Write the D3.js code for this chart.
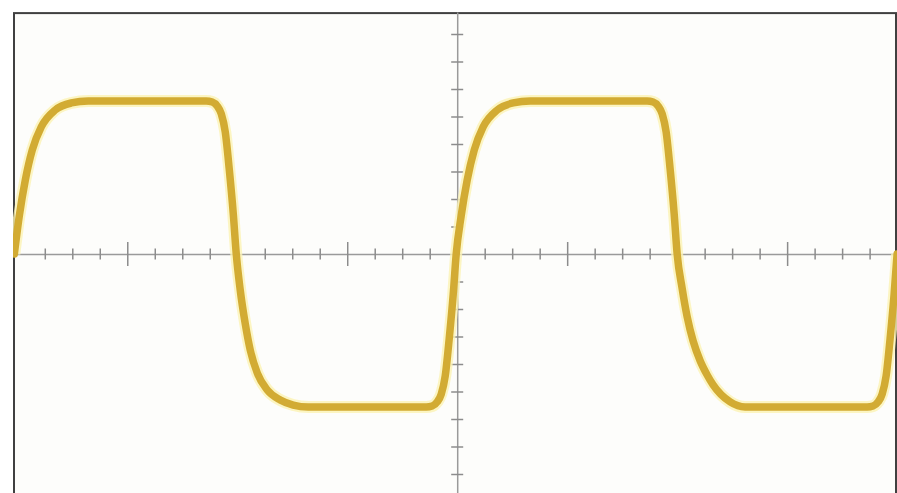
<!DOCTYPE html>
<html lang="en">
<head>
    <meta charset="UTF-8">
    <script type="text/javascript" src="https://cdn.jsdelivr.net/npm/d3@7/dist/d3.min.js"></script>
    <title>Scope trace</title>
</head>
<style>
    html, body {
       margin: 0;
       padding: 0;
       background: #ffffff;
       overflow: hidden;
    }
    svg .screen {
       fill: #fdfdfb;
       stroke: #404040;
       stroke-width: 2;
    }
    .axis path.domain {
       stroke: #9a9a9a;
       stroke-width: 1.5;
    }
    .axis .tick line {
       stroke: #8c8c8c;
       stroke-width: 1.5;
    }
    .glow {
       fill: none;
       stroke: #fbf2b4;
       stroke-width: 12;
       stroke-opacity: 0.8;
    }
    .trace {
       fill: none;
       stroke: #d2ab33;
       stroke-width: 7.5;
       stroke-linejoin: round;
       stroke-linecap: round;
    }
 </style>
<body>
   <div id="container"></div>

<script>
  // trace, in divisions (time, volts)
  var traceT = [-4.027, -3.982, -3.927, -3.864, -3.782, -3.655, -3.509, -3.355,
                -2.282, -2.227, -2.182, -2.145, -2.109, -2.073, -2.036, -2.009,
                -1.973, -1.927, -1.882, -1.818, -1.727, -1.609, -1.491, -1.355,
                -0.282, -0.227, -0.182, -0.145, -0.109, -0.073, -0.036, -0.009,
                0.036, 0.091, 0.155, 0.236, 0.364, 0.509, 0.664,
                1.727, 1.782, 1.827, 1.864, 1.900, 1.936, 1.973, 2.000,
                2.045, 2.091, 2.145, 2.209, 2.273, 2.327, 2.482, 2.618,
                3.727, 3.782, 3.827, 3.864, 3.900, 3.936, 3.973, 4.000];
  var traceV = [0.0, 0.345, 0.673, 0.945, 1.155, 1.309, 1.373, 1.391,
                1.391, 1.382, 1.345, 1.273, 1.109, 0.773, 0.364, 0.0,
                -0.327, -0.636, -0.873, -1.082, -1.236, -1.327, -1.373, -1.391,
                -1.391, -1.382, -1.345, -1.273, -1.109, -0.773, -0.364, 0.0,
                0.345, 0.673, 0.945, 1.155, 1.309, 1.373, 1.391,
                1.391, 1.382, 1.345, 1.273, 1.109, 0.773, 0.364, 0.0,
                -0.31, -0.57, -0.79, -0.97, -1.10, -1.19, -1.345, -1.391,
                -1.391, -1.382, -1.345, -1.273, -1.109, -0.773, -0.364, 0.0];

  var majorDivs = [-4, -3, -2, -1, 0, 1, 2, 3, 4];
  var subDivs = 4;

    const width = 897;
    const height = 493;

    const svg = d3.select("#container")
                .append("svg")
                .attr("width", width)
                .attr("height", height);

    var xScale = d3.scaleLinear()
            .domain([-4.03, 3.99])
            .range([14, 896]);

    var yScale = d3.scaleLinear()
            .domain([-2.2, 2.2])
            .range([496, 12]);

    // screen frame (bottom edge falls off the picture)
    svg.append("rect")
        .attr("class", "screen")
        .attr("x", xScale(-4.03))
        .attr("y", yScale(2.19))
        .attr("width", xScale(3.99) - xScale(-4.03))
        .attr("height", 520);

    svg.append("clipPath")
        .attr("id", "clip")
        .append("rect")
        .attr("x", xScale(-4.03) - 1)
        .attr("y", 0)
        .attr("width", width)
        .attr("height", height);

    var minorTicks = d3.range(-4 * subDivs, 4 * subDivs + 1).map(function(d){ return d / subDivs; })
                        .filter(function(d){ return majorDivs.indexOf(d) < 0 && d > -4.03 && d < 3.99; });
    var yTicks = d3.range(-8, 9).map(function(d){ return d / subDivs; }).filter(function(d){ return d !== 0; });

    // horizontal centre line
    const gx = svg.append("g")
                .attr("class", "axis")
                .attr("transform", `translate(0,${yScale(0)})`)
                .call(d3.axisBottom(xScale).tickValues(minorTicks).tickSizeOuter(0).tickFormat(""));
    gx.selectAll(".tick line").attr("y1", -5.5).attr("y2", 5.5);

    const gxMajor = svg.append("g")
                .attr("class", "axis")
                .attr("transform", `translate(0,${yScale(0)})`)
                .call(d3.axisBottom(xScale).tickValues(majorDivs.filter(function(d){ return d > -4 && d < 4 && d !== 0; }))
                        .tickSizeOuter(0).tickFormat(""));
    gxMajor.select(".domain").remove();
    gxMajor.selectAll(".tick line").attr("y1", -12).attr("y2", 12);

    // vertical centre line
    const gy = svg.append("g")
                .attr("class", "axis")
                .attr("transform", `translate(${xScale(0)},0)`)
                .call(d3.axisLeft(yScale).tickValues(yTicks).tickSizeOuter(0).tickFormat(""));
    gy.selectAll(".tick line").attr("x1", -6).attr("x2", 6);

    var line = d3.line()
                .x(function(d){ return xScale(d[0]); })
                .y(function(d){ return yScale(d[1]); })
                .curve(d3.curveMonotoneX);

    var pts = d3.zip(traceT, traceV);

    const traces = svg.append("g").attr("clip-path", "url(#clip)");

    traces.append("path")
        .datum(pts)
        .attr("class", "glow")
        .attr("d", line);

    traces.append("path")
        .datum(pts)
        .attr("class", "trace")
        .attr("d", line);
</script>
</body>
</html>
